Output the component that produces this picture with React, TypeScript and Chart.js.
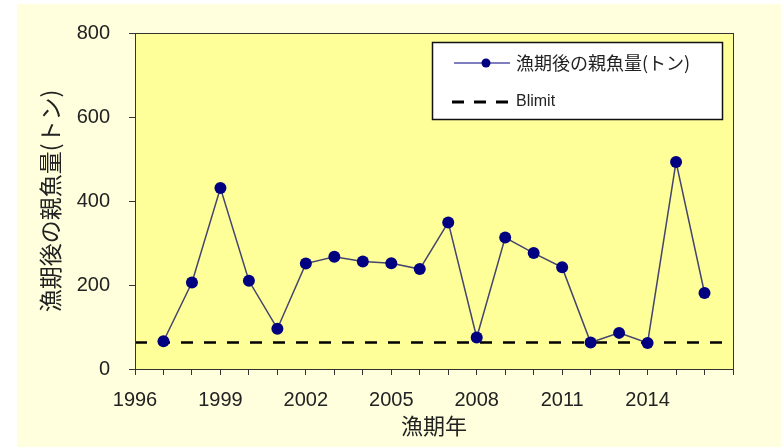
import { useEffect, useRef } from 'react';
import { Chart, registerables } from 'chart.js';

Chart.register(...registerables);

// ---- data ----
const years = [1997, 1998, 1999, 2000, 2001, 2002, 2003, 2004, 2005, 2006, 2007, 2008, 2009, 2010, 2011, 2012, 2013, 2014, 2015, 2016];
const biomass = [66, 206, 431, 210, 96, 251, 267, 256, 252, 238, 349, 75, 313, 276, 242, 63, 86, 62, 493, 181];
const blimit = 63;
const xMin = 1996;
const xMax = 2017;
const xTickLabels = [1996, 1999, 2002, 2005, 2008, 2011, 2014];
const yMax = 800;
const yStep = 200;
const seriesName = '漁期後の親魚量(トン)';
const blimitName = 'Blimit';
const xTitle = '漁期年';
const yTitle = '漁期後の親魚量(トン)';

const OUTER_BG = '#FFFFDD';
const PLOT_BG = '#FFFF99';
const NAVY = '#000080';
const LINE = '#45456e';
const AXIS = '#333333';
const TEXT = '#222222';

const bgPlugin = {
  id: 'bgPlugin',
  beforeDraw(chart: any) {
    const { ctx, chartArea } = chart;
    ctx.save();
    ctx.fillStyle = '#ffffff';
    ctx.fillRect(0, 0, chart.width, chart.height);
    ctx.fillStyle = OUTER_BG;
    ctx.fillRect(17, 4, chart.width - 17, chart.height - 4);
    ctx.fillStyle = PLOT_BG;
    ctx.fillRect(chartArea.left, chartArea.top, chartArea.right - chartArea.left, chartArea.bottom - chartArea.top);
    ctx.restore();
  },
  afterDraw(chart: any) {
    const { ctx, chartArea } = chart;
    ctx.save();
    // frame
    ctx.strokeStyle = AXIS;
    ctx.lineWidth = 1;
    ctx.strokeRect(Math.round(chartArea.left) + 0.5, Math.round(chartArea.top) + 0.5,
      Math.round(chartArea.right - chartArea.left), Math.round(chartArea.bottom - chartArea.top));

    // legend
    const bw = 290, bh = 77;
    const bx = Math.round(chartArea.right - 11 - bw);
    const by = Math.round(chartArea.top + 9);
    ctx.fillStyle = '#ffffff';
    ctx.fillRect(bx, by, bw, bh);
    ctx.strokeStyle = '#111111';
    ctx.lineWidth = 1.5;
    ctx.strokeRect(bx + 0.5, by + 0.5, bw, bh);

    const lx0 = bx + 22, lx1 = bx + 78;
    const y1 = by + 21, y2 = by + 60;
    ctx.strokeStyle = NAVY;
    ctx.lineWidth = 1.2;
    ctx.beginPath();
    ctx.moveTo(lx0, y1);
    ctx.lineTo(lx1, y1);
    ctx.stroke();
    ctx.fillStyle = NAVY;
    ctx.beginPath();
    ctx.arc((lx0 + lx1) / 2 + 4, y1, 4.5, 0, Math.PI * 2);
    ctx.fill();

    ctx.strokeStyle = '#000000';
    ctx.lineWidth = 3;
    ctx.setLineDash([12, 10]);
    ctx.beginPath();
    ctx.moveTo(lx0 - 2, y2);
    ctx.lineTo(lx1 + 2, y2);
    ctx.stroke();
    ctx.setLineDash([]);

    ctx.fillStyle = TEXT;
    ctx.textBaseline = 'middle';
    ctx.textAlign = 'left';
    ctx.font = '18px "Noto Sans CJK JP"';
    ctx.fillText(seriesName, lx1 + 6, y1);
    ctx.font = '16px "Liberation Sans"';
    ctx.fillText(blimitName, lx1 + 6, y2);
    ctx.restore();
  },
};

export default function App() {
  const ref = useRef<HTMLCanvasElement | null>(null);

  useEffect(() => {
    if (!ref.current) return;
    const chart = new Chart(ref.current, {
      type: 'line',
      data: {
        datasets: [
          {
            label: seriesName,
            data: years.map((y, i) => ({ x: y, y: biomass[i] })),
            borderColor: LINE,
            borderWidth: 1.5,
            pointRadius: 6,
            pointBackgroundColor: NAVY,
            pointBorderColor: NAVY,
            pointBorderWidth: 0,
            tension: 0,
          },
          {
            label: blimitName,
            data: [{ x: xMin, y: blimit }, { x: xMax, y: blimit }],
            borderColor: '#000000',
            borderWidth: 2.5,
            borderDash: [12, 11],
            pointRadius: 0,
          },
        ],
      },
      options: {
        animation: false,
        responsive: false,
        events: [],
        layout: { padding: { left: 0, top: 33, right: 48, bottom: 0 } },
        plugins: {
          legend: { display: false },
          tooltip: { enabled: false },
        },
        scales: {
          x: {
            type: 'linear',
            min: xMin,
            max: xMax,
            afterFit: (s: any) => { s.height = 78; },
            afterBuildTicks: (s: any) => {
              const t = [];
              for (let v = xMin; v <= xMax; v++) t.push({ value: v });
              s.ticks = t;
            },
            ticks: {
              autoSkip: false,
              maxRotation: 0,
              padding: 13,
              color: TEXT,
              font: { family: '"Liberation Sans"', size: 20 },
              callback: (v: any) => (xTickLabels.includes(Number(v)) ? String(v) : ''),
            },
            grid: { display: true, drawOnChartArea: false, drawTicks: true, tickLength: 6, color: AXIS },
            border: { display: true, color: AXIS, width: 1 },
            title: {
              display: true,
              text: xTitle,
              color: TEXT,
              font: { family: '"Noto Sans CJK JP"', size: 22 },
              padding: { top: 0, bottom: 8 },
            },
          },
          y: {
            min: 0,
            max: yMax,
            afterFit: (s: any) => { s.width = 135; },
            ticks: {
              stepSize: yStep,
              padding: 19,
              color: TEXT,
              font: { family: '"Liberation Sans"', size: 20 },
            },
            grid: { display: true, drawOnChartArea: false, drawTicks: true, tickLength: 6, color: AXIS },
            border: { display: true, color: AXIS, width: 1 },
            title: {
              display: true,
              text: yTitle,
              color: TEXT,
              font: { family: '"Noto Sans CJK JP"', size: 23 },
              padding: { top: 36, bottom: 0 },
            },
          },
        },
      },
      plugins: [bgPlugin],
    });
    return () => chart.destroy();
  }, []);

  return (
    <div style={{ position: 'absolute', left: 0, top: 0, width: 781, height: 447 }}>
      <canvas ref={ref} width={781} height={447} style={{ display: 'block' }} />
    </div>
  );
}
